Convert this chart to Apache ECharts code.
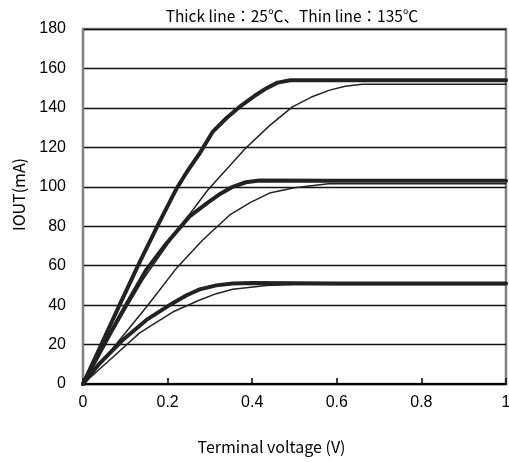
<!DOCTYPE html>
<html>
<head>
<meta charset="utf-8">
<script src="https://cdn.jsdelivr.net/npm/echarts@6/dist/echarts.min.js"></script>
<style>html,body{margin:0;padding:0;background:#fff}#c{width:509px;height:462px}</style>
</head>
<body>
<div id="c"></div>
<script>
// Terminal voltage (V) vs IOUT (mA)
const thickHigh = [[0,0],[0.04,18.5],[0.083,38.5],[0.13,60],[0.177,80.6],[0.222,99.4],[0.25,109],[0.276,117],[0.307,128],[0.34,135],[0.37,140.5],[0.405,146],[0.434,150],[0.46,152.8],[0.49,154],[0.6,154],[0.8,154],[1,154]];
const thinHigh  = [[0,0],[0.07,27],[0.141,52.7],[0.22,77],[0.295,98.4],[0.34,109],[0.382,119],[0.441,131],[0.495,140.5],[0.54,145.5],[0.583,149],[0.62,151],[0.66,152],[0.8,152],[1,152]];
const thickMid  = [[0,0],[0.05,20],[0.095,37.5],[0.15,58],[0.198,71.5],[0.252,85],[0.295,92],[0.325,96.5],[0.354,100],[0.385,102.3],[0.417,103.2],[0.6,103],[0.8,103],[1,103]];
const thinMid   = [[0,0],[0.07,18],[0.15,39],[0.222,59],[0.283,73],[0.347,85.7],[0.395,92],[0.441,96.8],[0.5,99.5],[0.58,101.5],[0.8,101.5],[1,101.5]];
const thickLow  = [[0,0],[0.04,10.6],[0.094,22.3],[0.15,32.5],[0.212,41],[0.245,45],[0.276,48],[0.315,50],[0.354,51],[0.4,51.2],[0.6,51],[0.8,51],[1,51]];
const thinLow   = [[0,0],[0.071,13.7],[0.134,25.9],[0.212,36.5],[0.276,42.6],[0.315,45.8],[0.354,48],[0.434,50],[0.5,50.5],[0.8,50.5],[1,50.5]];
const titleText = 'Thick line：25℃、Thin line：135℃';
const xName = 'Terminal voltage (V)';
const yName = 'IOUT(mA)';

const chart = echarts.init(document.getElementById('c'));
const font = '"Liberation Sans", Arial, sans-serif';
function line(data, w) {
  return {type:'line', data:data, showSymbol:false, smooth:false,
    lineStyle:{color:'#222', width:w, join:'round', cap:'round'}, z: w > 2 ? 3 : 4, animation:false};
}
chart.setOption({
  animation:false,
  title:{text:titleText, left:287, textAlign:'center', top:3,
    textStyle:{fontFamily:'"Noto Sans CJK JP", sans-serif', fontSize:15.5, fontWeight:'normal', color:'#000'}},
  grid:{left:83, right:3, top:29, bottom:78, outerBoundsMode:'none', show:true, borderColor:'#808080', borderWidth:2.5, backgroundColor:'#fff'},
  xAxis:{type:'value', min:0, max:1, interval:0.2,
    name:xName, nameLocation:'middle', nameGap:55,
    nameTextStyle:{fontFamily:'"Noto Sans CJK JP", sans-serif', fontSize:16, color:'#000', padding:[0,46,0,0]},
    axisLine:{lineStyle:{color:'#000', width:2}},
    axisTick:{inside:true, length:6, lineStyle:{color:'#000', width:1.5}},
    axisLabel:{margin:11, fontFamily:font, fontSize:16, color:'#000'},
    splitLine:{show:false}},
  yAxis:{type:'value', min:0, max:180, interval:20,
    name:yName, nameLocation:'middle', nameGap:56,
    nameTextStyle:{fontFamily:'"Noto Sans CJK JP", sans-serif', fontSize:16, color:'#000', padding:[0,0,0,24]},
    axisLine:{show:true, lineStyle:{color:'#808080', width:2}},
    axisTick:{show:false},
    axisLabel:{margin:17, fontFamily:font, fontSize:16, color:'#000'},
    splitLine:{show:true, lineStyle:{color:'#111', width:1.3}}},
  series:[line(thickHigh,4), line(thinHigh,1.5), line(thickMid,4), line(thinMid,1.5), line(thickLow,4), line(thinLow,1.5)]
});
</script>
</body>
</html>
